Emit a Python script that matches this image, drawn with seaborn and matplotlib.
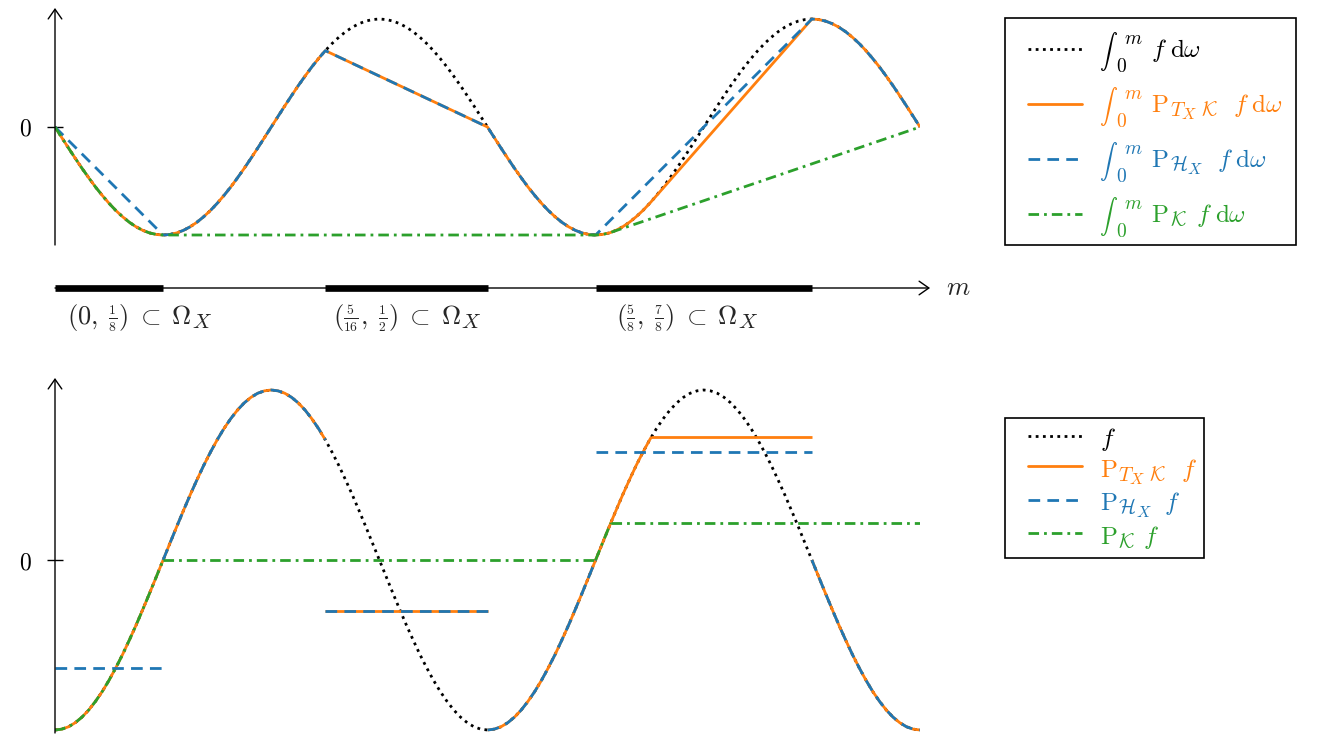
import numpy as np
import pandas as pd
import matplotlib
matplotlib.use("Agg")
import matplotlib.pyplot as plt
from matplotlib.lines import Line2D
from matplotlib.legend_handler import HandlerLine2D
import seaborn as sns

try:  # slightly larger sub/superscripts, closer to TeX output
    import matplotlib._mathtext as _mt
    if hasattr(_mt, "SHRINK_FACTOR"):
        _mt.SHRINK_FACTOR = 0.8
except Exception:
    pass

# ---------------- data ----------------
# sample positions m = k/128, k = 0..128
m_grid = np.arange(129) / 128
# f(m) sampled (bottom panel, zero line = 0, extremes = +-1)
f_vals = [
    -1.000, -0.995, -0.981, -0.957, -0.924, -0.882, -0.831, -0.773,
    -0.707, -0.634, -0.556, -0.471, -0.383, -0.290, -0.195, -0.098,
    0.000, 0.098, 0.195, 0.290, 0.383, 0.471, 0.556, 0.634,
    0.707, 0.773, 0.831, 0.882, 0.924, 0.957, 0.981, 0.995,
    1.000, 0.995, 0.981, 0.957, 0.924, 0.882, 0.831, 0.773,
    0.707, 0.634, 0.556, 0.471, 0.383, 0.290, 0.195, 0.098,
    0.000, -0.098, -0.195, -0.290, -0.383, -0.471, -0.556, -0.634,
    -0.707, -0.773, -0.831, -0.882, -0.924, -0.957, -0.981, -0.995,
    -1.000, -0.995, -0.981, -0.957, -0.924, -0.882, -0.831, -0.773,
    -0.707, -0.634, -0.556, -0.471, -0.383, -0.290, -0.195, -0.098,
    0.000, 0.098, 0.195, 0.290, 0.383, 0.471, 0.556, 0.634,
    0.707, 0.773, 0.831, 0.882, 0.924, 0.957, 0.981, 0.995,
    1.000, 0.995, 0.981, 0.957, 0.924, 0.882, 0.831, 0.773,
    0.707, 0.634, 0.556, 0.471, 0.383, 0.290, 0.195, 0.098,
    0.000, -0.098, -0.195, -0.290, -0.383, -0.471, -0.556, -0.634,
    -0.707, -0.773, -0.831, -0.882, -0.924, -0.957, -0.981, -0.995,
    -1.000]
# integral of f sampled (top panel, scaled so extremes = +-1)
F_vals = [
    0.000, -0.098, -0.195, -0.290, -0.383, -0.471, -0.556, -0.634,
    -0.707, -0.773, -0.831, -0.882, -0.924, -0.957, -0.981, -0.995,
    -1.000, -0.995, -0.981, -0.957, -0.924, -0.882, -0.831, -0.773,
    -0.707, -0.634, -0.556, -0.471, -0.383, -0.290, -0.195, -0.098,
    0.000, 0.098, 0.195, 0.290, 0.383, 0.471, 0.556, 0.634,
    0.707, 0.773, 0.831, 0.882, 0.924, 0.957, 0.981, 0.995,
    1.000, 0.995, 0.981, 0.957, 0.924, 0.882, 0.831, 0.773,
    0.707, 0.634, 0.556, 0.471, 0.383, 0.290, 0.195, 0.098,
    0.000, -0.098, -0.195, -0.290, -0.383, -0.471, -0.556, -0.634,
    -0.707, -0.773, -0.831, -0.882, -0.924, -0.957, -0.981, -0.995,
    -1.000, -0.995, -0.981, -0.957, -0.924, -0.882, -0.831, -0.773,
    -0.707, -0.634, -0.556, -0.471, -0.383, -0.290, -0.195, -0.098,
    0.000, 0.098, 0.195, 0.290, 0.383, 0.471, 0.556, 0.634,
    0.707, 0.773, 0.831, 0.882, 0.924, 0.957, 0.981, 0.995,
    1.000, 0.995, 0.981, 0.957, 0.924, 0.882, 0.831, 0.773,
    0.707, 0.634, 0.556, 0.471, 0.383, 0.290, 0.195, 0.098,
    0.000]
# kink points of the projections
m_star = 0.6425   # P_K leaves f
m_one = 0.6895    # P_TK leaves f
m_extra = [m_star, m_one]
f_extra = [0.218, 0.724]
F_extra = [-0.976, -0.689]

# intervals of Omega_X
intervals = [(0.0, 1 / 8), (5 / 16, 1 / 2), (5 / 8, 7 / 8)]
interval_labels = [r"$(0,\;\genfrac{}{}{0.8}{3}{1}{8})\;\subset\;\Omega_X$",
                   r"$(\genfrac{}{}{0.8}{3}{5}{16},\;\genfrac{}{}{0.8}{3}{1}{2})\;\subset\;\Omega_X$",
                   r"$(\genfrac{}{}{0.8}{3}{5}{8},\;\genfrac{}{}{0.8}{3}{7}{8})\;\subset\;\Omega_X$"]

# constant levels of the projections (bottom panel)
PH_levels = [-0.637, -0.300, 0.637]
PTK_flats = [(5 / 16, 1 / 2, -0.300), (m_one, 7 / 8, 0.724)]
PK_flats = [(1 / 8, 5 / 8, 0.000), (m_star, 1.0, 0.218)]
PH_flats = [(a, b, lev) for (a, b), lev in zip(intervals, PH_levels)]

SP = r"\hspace{2.45}"
top_labels = [r"$" + SP + r"f\;\mathrm{d}\omega$",
              r"$" + SP + r"\mathrm{P}_{T_X\;\mathcal{K}}\hspace{0.7}f\;\mathrm{d}\omega$",
              r"$" + SP + r"\mathrm{P}_{\mathcal{H}_X}\hspace{0.6}f\;\mathrm{d}\omega$",
              r"$" + SP + r"\mathrm{P}_{\mathcal{K}}\hspace{0.45}f\;\mathrm{d}\omega$"]
bot_labels = [r"$f$",
              r"$\mathrm{P}_{T_X\;\mathcal{K}}\hspace{0.7}f$",
              r"$\mathrm{P}_{\mathcal{H}_X}\hspace{0.55}f$",
              r"$\mathrm{P}_{\mathcal{K}}\hspace{0.4}f$"]

# ---------------- style ----------------
sns.set_theme(style="white")
plt.rcParams["mathtext.fontset"] = "cm"
plt.rcParams["font.family"] = ["DejaVu Serif"]

C_BLACK, C_ORANGE, C_BLUE, C_GREEN = "black", "#ff7f0e", "#1f77b4", "#2ca02c"
LW = 2.0
LS_DOT = (0, (1.0, 1.6))
LS_SOLID = "-"
LS_DASH = (0, (4.2, 2.6))
LS_DASHDOT = (0, (3.8, 1.8, 1.0, 1.8))
styles = [(C_BLACK, LS_DOT), (C_ORANGE, LS_SOLID), (C_BLUE, LS_DASH), (C_GREEN, LS_DASHDOT)]

# merged samples
df = pd.DataFrame({"m": np.concatenate([m_grid, m_extra]),
                   "f": np.concatenate([f_vals, f_extra]),
                   "F": np.concatenate([F_vals, F_extra])}).sort_values("m").reset_index(drop=True)

eps = 1e-9


def chord_curve(chords):
    keep = np.ones(len(df), bool)
    for a, b in chords:
        keep &= ~((df["m"] > a + eps) & (df["m"] < b - eps))
    d = df[keep]
    return [(d["m"].values, d["F"].values)]


def flat_segments(flats):
    segs = []
    start = 0.0
    for a, b, lev in flats:
        if a > start + eps:
            d = df[(df["m"] >= start - eps) & (df["m"] <= a + eps)]
            segs.append((d["m"].values, d["f"].values))
        segs.append((np.array([a, b]), np.array([lev, lev])))
        start = b
    if start < 1 - eps:
        d = df[(df["m"] >= start - eps)]
        segs.append((d["m"].values, d["f"].values))
    return segs


top_curves = [[(df["m"].values, df["F"].values)],
              chord_curve([(a, b) for a, b, _ in PTK_flats]),
              chord_curve(intervals),
              chord_curve([(a, b) for a, b, _ in PK_flats])]
bot_curves = [[(df["m"].values, df["f"].values)],
              flat_segments(PTK_flats),
              flat_segments(PH_flats),
              flat_segments(PK_flats)]

# ---------------- figure ----------------
W, H = 1330, 742
fig = plt.figure(figsize=(W / 100, H / 100), dpi=100)


def px_axes(left, right, top, bottom):
    return fig.add_axes([left / W, 1 - bottom / H, (right - left) / W, (bottom - top) / H])


ax_top = px_axes(55, 920, 8, 245)
ax_bot = px_axes(55, 920, 378, 733)
ax_nl = px_axes(55, 920, 265, 345)

ax_top.set_ylim(-(245 - 127) / 108, (127 - 8) / 108)
ax_bot.set_ylim(-(733 - 560) / 170, (560 - 378) / 170)


def draw(ax, curves):
    for segs, (col, ls) in zip(curves, styles):
        for x, y in segs:
            sns.lineplot(x=x, y=y, ax=ax, color=col, lw=LW, linestyle=ls,
                         estimator=None, sort=False, legend=False,
                         solid_capstyle="butt", dash_capstyle="butt")


draw(ax_top, top_curves)
draw(ax_bot, bot_curves)

ARROW = dict(arrowstyle="->,head_length=0.5,head_width=0.35", lw=1.0,
             color="black", shrinkA=0, shrinkB=0, mutation_scale=14)

for ax in (ax_top, ax_bot):
    ax.set_xlim(0, 1)
    for s in ax.spines.values():
        s.set_visible(False)
    ax.set_xticks([])
    ax.set_yticks([0])
    ax.set_yticklabels([r"$0$"], fontsize=17)
    ax.tick_params(axis="y", direction="inout", length=11, width=1.0, pad=11,
                   left=True, colors="black")
    ax.set_xlabel("")
    ax.set_ylabel("")
    ax.patch.set_alpha(0)
    ax.annotate("", xy=(0, 1), xytext=(0, 0), xycoords="axes fraction",
                textcoords="axes fraction", arrowprops=ARROW)

# number line
ax_nl.set_xlim(0, 1)
ax_nl.set_ylim(-(345 - 288), 288 - 265)
ax_nl.axis("off")
ax_nl.annotate("", xy=(1.0116, 0), xytext=(0, 0), xycoords="data",
               arrowprops=ARROW, annotation_clip=False)
label_dx = [0.0139, 0.0093, 0.0231]
for (a, b), lab, dx in zip(intervals, interval_labels, label_dx):
    ax_nl.plot([a, b], [0, 0], color="black", lw=4.8, solid_capstyle="butt")
    ax_nl.text(a + dx, -30, lab, fontsize=19, ha="left", va="center")
ax_nl.text(1.044, 0, r"$m$", fontsize=19, ha="center", va="center")

# legends
FS = 18
FSPX = FS * 100 / 72


class ShiftedLine(HandlerLine2D):
    """Legend line drawn slightly lower in its box (points)."""

    def __init__(self, dy=0.0, **kw):
        super().__init__(**kw)
        self.dy = dy

    def create_artists(self, legend, orig_handle, xdescent, ydescent, width,
                       height, fontsize, trans):
        arts = super().create_artists(legend, orig_handle, xdescent, ydescent,
                                      width, height, fontsize, trans)
        for a in arts:
            a.set_ydata(np.asarray(a.get_ydata(), float) - self.dy)
        return arts


def make_handles():
    return [Line2D([], [], color=c, lw=LW, linestyle=ls) for c, ls in styles]


common = dict(loc="upper left", bbox_transform=fig.transFigure, borderaxespad=0,
              fancybox=False, framealpha=1, edgecolor="black", fontsize=FS,
              labelcolor="linecolor")
leg1 = fig.legend(make_handles(), top_labels, bbox_to_anchor=(1005 / W, 1 - 18 / H),
                  handlelength=64 / FSPX, handletextpad=16 / FSPX, borderpad=0.52,
                  handleheight=1.854, labelspacing=0.75,
                  handler_map={Line2D: ShiftedLine(dy=3.3, xpad=10 / FSPX)}, **common)
leg2 = fig.legend(make_handles(), bot_labels, bbox_to_anchor=(1005 / W, 1 - 418 / H),
                  handlelength=70 / FSPX, handletextpad=18 / FSPX, borderpad=0.28,
                  handleheight=1.2, labelspacing=0.1,
                  handler_map={Line2D: ShiftedLine(dy=0.0, xpad=16 / FSPX)}, **common)
for lg in (leg1, leg2):
    lg.get_frame().set_linewidth(1.2)

# integral signs of the upper legend entries
fig.canvas.draw()
rend = fig.canvas.get_renderer()
for ln, tx, (col, _) in zip(leg1.get_lines(), leg1.get_texts(), styles):
    lb = ln.get_window_extent(rend)
    tb = tx.get_window_extent(rend)
    yc = 0.5 * (lb.y0 + lb.y1)
    x0 = tb.x0
    fig.text((x0 + 1) / W, (yc - 3) / H, r"$\int$", fontsize=13, color=col,
             ha="left", va="center", zorder=10)
    fig.text((x0 + 23) / W, (yc - 18) / H, r"$0$", fontsize=14, color=col,
             ha="center", va="center", zorder=10)
    fig.text((x0 + 35) / W, (yc + 10) / H, r"$m$", fontsize=14, color=col,
             ha="center", va="center", zorder=10)

fig.savefig("out.png", dpi=100)
